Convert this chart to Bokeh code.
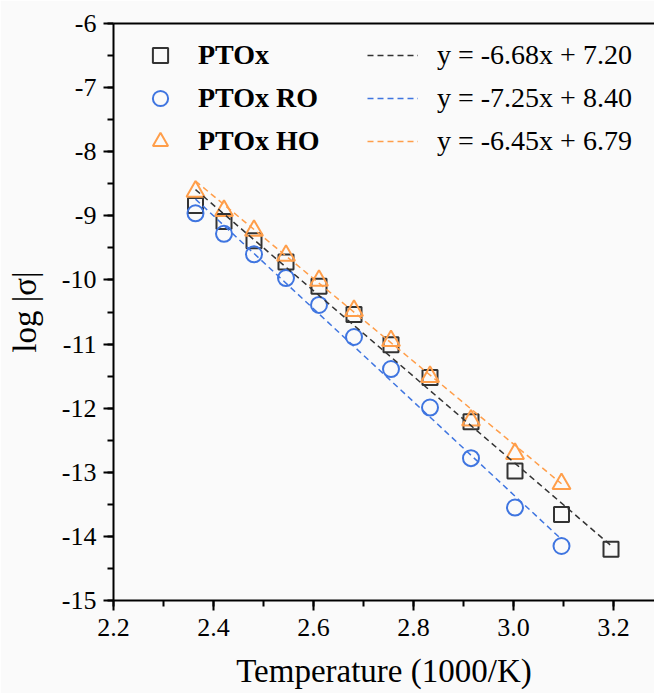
from bokeh.plotting import figure
from bokeh.models import (Legend, LegendItem, LinearAxis, SingleIntervalTicker,
                          PrintfTickFormatter, Range1d, FixedTicker)
from bokeh.embed import file_html
from bokeh.resources import INLINE

# ---- data ----
inv_T = [2.364, 2.421, 2.481, 2.545, 2.611, 2.681, 2.755, 2.833, 2.915, 3.003, 3.096, 3.195]
log_ptox = [-8.84, -9.09, -9.39, -9.72, -10.10, -10.54, -11.01, -11.52, -12.21, -12.98, -13.66, -14.20]
log_ro = [-8.96, -9.28, -9.60, -9.97, -10.39, -10.89, -11.39, -11.99, -12.78, -13.55, -14.15]
log_ho = [-8.62, -8.92, -9.23, -9.62, -10.01, -10.48, -10.95, -11.51, -12.19, -12.71, -13.18]
series_names = ["PTOx", "PTOx RO", "PTOx HO"]
fit_slopes = [-6.68, -7.25, -6.45]
fit_intercepts = [7.20, 8.40, 6.79]
fit_labels = ["y = -6.68x + 7.20", "y = -7.25x + 8.40", "y = -6.45x + 6.79"]
x_lim = (2.2, 3.282)
y_lim = (-15, -6)

colors = ["#333333", "#3f75e0", "#ff9e4a"]
markers = ["square", "circle", "triangle"]
marker_sizes = [15, 16, 18]
FONT = "Liberation Serif"
BG = "#fafafa"

p = figure(width=654, height=693, output_backend="svg", toolbar_location=None,
           x_range=Range1d(*x_lim), y_range=Range1d(*y_lim),
           min_border_left=113, min_border_right=0, min_border_top=23, min_border_bottom=93,
           background_fill_color=BG, border_fill_color=BG, outline_line_color=None)
p.grid.visible = False

ys_all = [log_ptox, log_ro, log_ho]
scatter_r = []
line_r = []
for name, ys, c, m, s in zip(series_names, ys_all, colors, markers, marker_sizes):
    xs = inv_T[:len(ys)]
    r = p.scatter(xs, ys, marker=m, size=s, fill_color=None, line_color=c, line_width=2)
    scatter_r.append(r)
for ys, c, k, b in zip(ys_all, colors, fit_slopes, fit_intercepts):
    xs = inv_T[:len(ys)]
    x0, x1 = min(xs), max(xs)
    lr = p.line([x0, x1], [k * x0 + b, k * x1 + b], line_color=c, line_width=1.5, line_dash="6 4")
    line_r.append(lr)

# axes
xa = p.xaxis[0]
ya = p.yaxis[0]
xa.ticker = SingleIntervalTicker(interval=0.2, num_minor_ticks=2)
xa.formatter = PrintfTickFormatter(format="%.1f")
ya.ticker = SingleIntervalTicker(interval=1, num_minor_ticks=2)
ya.formatter = PrintfTickFormatter(format="%d")
xa.axis_label = "Temperature (1000/K)"
ya.axis_label = "log |σ|"
for ax in (xa, ya):
    ax.axis_line_width = 2
    ax.axis_line_color = "black"
    ax.major_tick_line_width = 2
    ax.minor_tick_line_width = 2
    ax.major_tick_line_color = "black"
    ax.minor_tick_line_color = "black"
    ax.major_tick_in = 0
    ax.major_tick_out = 10
    ax.minor_tick_in = 0
    ax.minor_tick_out = 6
    ax.major_label_text_font = FONT
    ax.major_label_text_font_size = "26px"
    ax.major_label_text_color = "black"
    ax.axis_label_text_font = FONT
    ax.axis_label_text_font_size = "33px"
    ax.axis_label_text_font_style = "normal"
    ax.axis_label_text_color = "black"
xa.major_label_standoff = 8
xa.axis_label_standoff = 14
ya.major_label_standoff = 7
ya.axis_label_standoff = 16

top = LinearAxis(ticker=FixedTicker(ticks=[]), axis_line_width=2, axis_line_color="black",
                 major_tick_line_color=None, minor_tick_line_color=None,
                 major_label_text_font_size="0px")
p.add_layout(top, "above")

leg1 = Legend(items=[LegendItem(label=n, renderers=[r]) for n, r in zip(series_names, scatter_r)],
              location=(28, 440), orientation="vertical",
              glyph_width=38, glyph_height=38, label_height=38, spacing=5,
              label_standoff=19, padding=0, margin=0,
              label_text_font=FONT, label_text_font_size="28px", label_text_font_style="bold",
              label_text_color="black",
              background_fill_alpha=0, border_line_color=None)
leg2 = Legend(items=[LegendItem(label=t, renderers=[r]) for t, r in zip(fit_labels, line_r)],
              location=(254, 440), orientation="vertical",
              glyph_width=51, glyph_height=38, label_height=38, spacing=5,
              label_standoff=19, padding=0, margin=0,
              label_text_font=FONT, label_text_font_size="28px",
              label_text_color="black",
              background_fill_alpha=0, border_line_color=None)
p.add_layout(leg1, "center")
p.add_layout(leg2, "center")

open("out.html", "w").write(file_html(p, INLINE))
